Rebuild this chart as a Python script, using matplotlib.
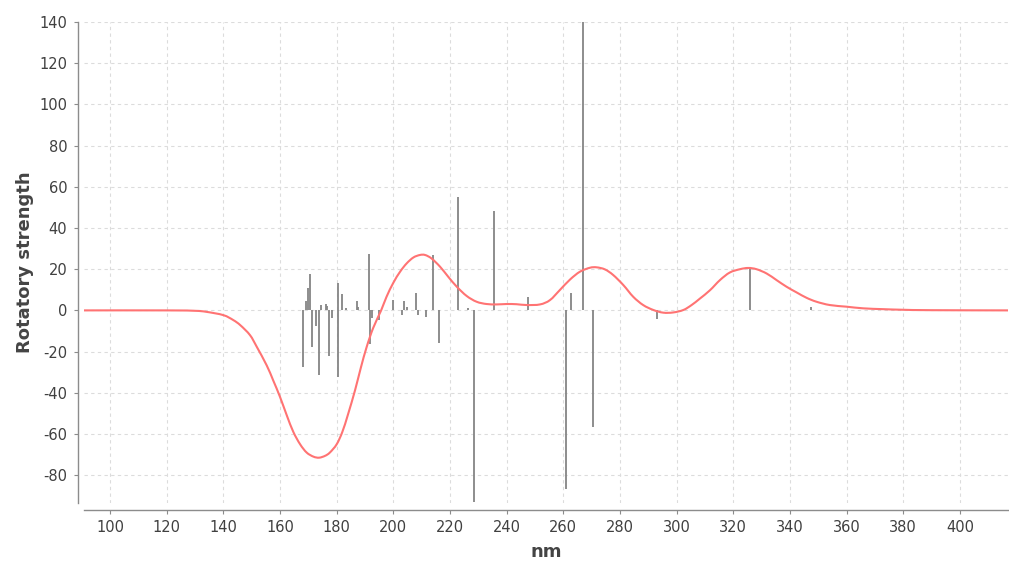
import matplotlib
matplotlib.use("Agg")
import matplotlib.pyplot as plt
from matplotlib.path import Path
from matplotlib.patches import PathPatch
import numpy as np

plt.rcParams["axes.unicode_minus"] = False

# Computed transitions: wavelength (nm) and rotatory strength
stick_nm = [168.1, 169.0, 170.0, 170.7, 171.4, 172.6, 173.9, 174.5, 176.2, 176.7,
            177.3, 178.2, 180.3, 180.5, 181.8, 183.3, 187.1, 187.6, 191.5, 191.7,
            192.4, 195.1, 200.0, 203.0, 203.9, 204.7, 208.0, 208.8, 211.5, 214.1,
            216.2, 222.9, 226.5, 228.5, 235.5, 247.4, 260.9, 262.7, 266.8, 270.4,
            293.0, 325.9, 347.3]
stick_r = [-27.4, 4.7, 10.7, 17.6, -17.7, -7.6, -31.4, 2.6, 3.0, 2.0,
           -22.2, -3.7, 13.4, -32.2, 7.9, 1.0, 4.7, 1.5, 27.3, -16.5,
           -3.7, -4.7, 5.0, -2.3, 4.7, 1.8, 8.5, -2.3, -3.1, 26.8,
           -15.7, 55.1, 1.3, -92.9, 48.4, 6.6, -86.7, 8.5, 140.0, -56.8,
           -4.2, 20.4, 1.5]

# Broadened spectrum
curve_nm = [90, 120, 130, 134, 140, 143.5, 146, 149.4, 151.8, 155.3, 157.6, 160,
            162.4, 164.7, 167.1, 169.4, 171.8, 173.8, 175.9, 177.6, 180, 182, 184,
            186.5, 188.5, 190.6, 192.9, 195.7, 197.6, 200, 202.4, 204.7, 207.1,
            209.4, 211.2, 213.5, 216.5, 219.4, 222.4, 225.9, 229.4, 232.9, 236.5,
            240, 243.5, 247.1, 251.8, 255.3, 258.8, 262.4, 265.9, 269.4, 271.8,
            274.7, 277.6, 281.2, 284.7, 288.2, 291.8, 295.3, 298.8, 302.4, 305.3,
            308.2, 311.8, 315.3, 318.8, 322.4, 325.3, 328.2, 331.8, 335.3, 338.8,
            342.4, 345.9, 349.4, 354.1, 360, 365.9, 372.9, 380, 390, 417]
curve_r = [0, 0, -0.2, -0.7, -2.3, -4.7, -7.2, -12, -17.7, -26.7, -34, -42,
           -51, -59, -65, -69, -71, -71.5, -70.6, -69, -65, -59, -50.5,
           -38.7, -28, -17.7, -8.5, 0, 6.6, 13.4, 18.8, 22.8, 25.7,
           26.9, 26.9, 25.2, 21.2, 16.3, 11.5, 7.0, 4.2, 3.1, 2.9,
           3.1, 3.0, 2.6, 2.9, 5.0, 9.9, 15.0, 18.8, 20.7, 20.9,
           19.9, 17.2, 12.3, 6.6, 2.6, 0.2, -1.1, -1.0, 0.2, 2.6,
           5.7, 9.8, 14.7, 18.4, 20.0, 20.6, 20.0, 17.9, 14.7, 11.5,
           8.7, 6.1, 4.2, 2.6, 1.8, 1.0, 0.6, 0.3, 0.1, 0]

x_ticks = list(range(100, 401, 20))
y_ticks = list(range(-80, 141, 20))


def smooth_path(xs, ys):
    """Catmull-Rom spline through the points, expressed as cubic Bezier segments."""
    x = np.asarray(xs, float)
    y = np.asarray(ys, float)
    n = len(x)
    verts = [(x[0], y[0])]
    codes = [Path.MOVETO]
    for i in range(n - 1):
        i0 = max(i - 1, 0)
        i3 = min(i + 2, n - 1)
        c1 = (x[i] + (x[i + 1] - x[i0]) / 6, y[i] + (y[i + 1] - y[i0]) / 6)
        c2 = (x[i + 1] - (x[i3] - x[i]) / 6, y[i + 1] - (y[i3] - y[i]) / 6)
        verts += [c1, c2, (x[i + 1], y[i + 1])]
        codes += [Path.CURVE4] * 3
    return Path(verts, codes)


W, H = 1009, 562
fig = plt.figure(figsize=(W / 100, H / 100), dpi=100)
ax = fig.add_axes([84 / W, (H - 503) / H, (1008 - 84) / W, (503 - 22) / H])

ax.vlines(stick_nm, 0, stick_r, colors="#858585", lw=1.3, zorder=2)
ax.add_patch(PathPatch(smooth_path(curve_nm, curve_r), fill=False,
                       edgecolor="#ff7373", lw=1.5, zorder=3))

ax.set_xlim(90.8, 417)
ax.set_ylim(-93.5, 140)
ax.set_xticks(x_ticks)
ax.set_yticks(y_ticks)

ax.grid(True, color="#dcdcdc", ls=(0, (3, 3)), lw=0.8)
ax.set_axisbelow(True)

for s in ("top", "right"):
    ax.spines[s].set_visible(False)
ax.spines["left"].set_position(("outward", 4))
ax.spines["bottom"].set_position(("outward", 5))
for s in ("left", "bottom"):
    ax.spines[s].set_color("#8c8c8c")
    ax.spines[s].set_linewidth(1.0)

ax.tick_params(axis="both", length=3, width=0.8, color="#8c8c8c",
               labelcolor="#404040", labelsize=10.5)
ax.tick_params(axis="x", pad=4)
ax.tick_params(axis="y", pad=5)

ax.set_xlabel("nm", fontsize=13, fontweight="bold", color="#444444", labelpad=6)
ax.set_ylabel("Rotatory strength", fontsize=13, fontweight="bold",
              color="#444444", labelpad=4)

fig.savefig("out.png", dpi=100, facecolor="white")
